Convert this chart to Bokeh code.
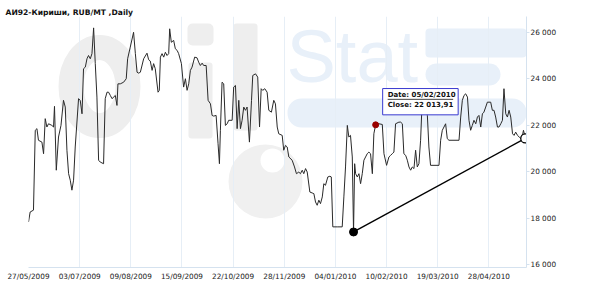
from bokeh.plotting import figure
from bokeh.models import Range1d, FixedTicker
from bokeh.core.properties import value
from bokeh.embed import file_html
from bokeh.resources import INLINE

title_text = "АИ92-Кириши,  RUB/MT ,Daily"

tick_sessions = [0, 37, 74, 111, 148, 185, 222, 259, 296, 333]
tick_labels = ["27/05/2009", "03/07/2009", "09/08/2009", "15/09/2009", "22/10/2009",
               "28/11/2009", "04/01/2010", "10/02/2010", "19/03/2010", "28/04/2010"]
y_ticks = [16000, 18000, 20000, 22000, 24000, 26000]
y_tick_labels = ["16 000", "18 000", "20 000", "22 000", "24 000", "26 000"]

sessions = [
    0, 1.2, 3.6, 4.9, 6.1, 7.2, 9.7, 10.9, 12.1, 13.3,
    14.5, 16.9, 18.1, 18.8, 20.1, 21.7, 23.5, 25.3, 26.6, 27.8,
    29.0, 30.2, 31.4, 32.6, 33.8, 36.2, 37.4, 38.7, 39.8, 41.1,
    42.3, 43.4, 44.7, 45.9, 47.1, 48.3, 49.5, 50.7, 51.9, 54.3,
    55.5, 56.8, 57.9, 59.2, 60.4, 62.8, 64.0, 64.7, 66.4, 68.8,
    70.7, 71.7, 73.6, 76.0, 77.3, 78.5, 79.7, 80.9, 83.3, 85.7,
    86.9, 88.1,
    89.4, 90.5, 91.7, 93.7, 94.6, 95.4, 96.6, 97.8, 99.0, 100.2,
    101.4, 102.1, 103.3, 105.0, 106.2, 107.5, 108.6, 110.6, 112.2, 113.5,
    114.7, 115.9, 117.1, 118.3, 120.2, 121.9, 123.1, 124.3, 125.6, 126.7,
    128.5, 129.9, 131.6, 132.8, 134.0, 135.7, 137.1, 138.1, 138.8, 140.0,
    141.2, 142.4, 143.7, 144.8, 147.3, 148.4, 149.7, 150.9, 152.1, 153.3,
    154.5, 155.7, 156.9, 158.1, 159.8, 161.3, 162.2, 164.2, 165.8, 167.1,
    168.3, 169.4, 170.9, 172.6, 173.8, 175.7, 177.4, 178.6,
    179.9, 181.0, 183.5, 184.6, 185.9, 187.1, 188.3, 190.7, 192.4, 193.8,
    195.5, 196.7, 198.0, 199.1, 200.4, 201.6, 203.5, 205.2, 206.4, 207.6,
    208.8, 210.0, 211.2, 212.5, 213.6, 214.8, 216.5, 218.0, 219.0, 220.1,
    223.3, 226.9, 228.1, 229.3, 230.6, 231.7, 232.9, 234.2, 235.1, 235.9,
    236.6, 237.8, 239.0, 240.2, 241.4, 242.6, 243.8, 245.0, 246.2, 247.4,
    248.7, 249.8, 251.1, 253.5, 255.9, 257.1, 259.0, 260.7, 261.9, 263.1,
    264.3, 265.5, 267.9, 269.2,
    270.4, 271.5, 272.8, 274.0, 275.2, 276.4, 277.6, 278.8, 280.0, 281.2,
    282.4, 283.6, 284.9, 288.5, 289.6, 290.8, 296.9, 298.1, 299.3, 300.5,
    301.7, 302.9, 304.1, 311.4, 312.6, 313.8, 315.0, 316.2, 317.5, 318.6,
    319.8, 321.0, 322.2, 323.5, 324.7, 325.8, 327.1, 328.3, 329.4, 330.7,
    331.9, 334.3, 335.5, 336.7, 337.9, 339.2, 340.3, 341.6, 342.8, 343.9,
    345.2, 346.4, 347.6, 348.8, 350.1, 351.2, 352.4, 353.7, 354.9, 356.1,
    357.3, 358.0, 359.2,
]

closes = [
    17830, 18260, 18340, 21780, 21850, 21350, 21270, 20770, 22280, 21920,
    22060, 21990, 21920, 22810, 20060, 21490, 21990, 23070, 22780, 20920,
    19910, 19630, 19200, 19630, 21060, 23140, 23070, 22490, 24430, 24500,
    24860, 25000, 24860, 25080, 26190, 24650, 23210, 20490, 20410, 20340,
    23140, 23420, 23420, 23280, 23140, 23280, 22850, 23780, 23780, 23850,
    24000, 24860, 25360, 26000, 25080, 24280, 24240, 24280, 24860, 25100,
    24820, 24760,
    24360, 24650, 24430, 23420, 23500, 24930, 25080, 24930, 25140, 25000,
    25080, 26150, 25570, 25650, 25290, 25220, 25080, 24650, 23640, 24000,
    23500, 23780, 24360, 24500, 24930, 24900, 24710, 24570, 24670, 24570,
    24570, 23070, 22920, 22420, 22390, 22420, 21200, 20340, 21780, 23850,
    23780, 21990, 22060, 22210, 22210, 23640, 23710, 21850, 23070, 21850,
    22210, 22780, 22640, 22780, 21270, 23070, 24140, 24210, 24070, 21920,
    23570, 23500, 23570, 23420, 22640, 22560, 23070, 22920,
    21920, 21630, 21560, 20920, 21130, 21060, 20630, 20490, 20200, 19910,
    19980, 19910, 20060, 19910, 20130, 19980, 19120, 19080, 19050, 18690,
    18550, 18770, 18620, 18910, 19480, 19410, 19770, 19800, 19770, 17620,
    17620, 17620, 18910, 20200, 21990, 21490, 21560, 20630, 17400, 20340,
    19910, 19770, 19910, 19480, 19910, 20490, 20630, 20770, 20840, 20770,
    19910, 21630, 22030, 22060, 22030, 20770, 20270, 20630, 20700, 20770,
    20840, 22060, 22130, 22130,
    22060, 20770, 20700, 20490, 20200, 20060, 20200, 20130, 20920, 20200,
    20340, 21350, 23280, 22420, 21060, 20270, 20270, 21350, 21780, 21920,
    22060, 21420, 21350, 21350, 22350, 23070, 23280, 23350, 23210, 22210,
    21780, 21990, 22210, 22060, 22350, 22420, 21920, 22490, 22560, 22780,
    22990, 22990, 22640, 22640, 22350, 21920, 21920, 22060, 22210, 23570,
    22490, 22350, 22640, 22350, 21630, 21560, 21700, 21560, 21490, 21420,
    21560, 21780, 21490,
]
assert len(sessions) == len(closes), (len(sessions), len(closes))

trend_sessions = [235.1, 359.3]
trend_values = [17400, 21430]

tip_session = 251.1
tip_close = 22013.91
tip_date = "05/02/2010"
tip_close_text = "22 013,91"

# ---------------- layout ----------------
W, H = 590, 290
BL, BR, BT, BB = 28, 64, 16, 23
X0, X1 = 0, 360.2
Y0, Y1 = 15870, 26680
FW = W - BL - BR
FH = H - BT - BB


def px2x(px):
    return X0 + (px - BL) / FW * (X1 - X0)


def py2y(py):
    return Y0 + (H - BB - py) / FH * (Y1 - Y0)


def dx(px):
    return px / FW * (X1 - X0)


def dy(py):
    return py / FH * (Y1 - Y0)


p = figure(width=W, height=H, output_backend="svg", toolbar_location=None,
           x_range=Range1d(X0, X1), y_range=Range1d(Y0, Y1),
           y_axis_location="right", min_border_left=BL, min_border_right=BR,
           min_border_top=BT, min_border_bottom=BB)
p.outline_line_color = None
p.background_fill_color = "white"
p.border_fill_color = "white"

# title
p.title.text = title_text
p.title.align = "left"
p.title.offset = 5 - BL
p.title.standoff = 0
p.title.text_font = "DejaVu Sans"
p.title.text_font_style = "bold"
p.title.text_font_size = "7.6px"
p.title.text_color = "#111111"

# ---------- watermark (OilStat logo) ----------
gray = "#eeeeee"
blue = "#e8f0f9"
r = p.ellipse(x=[px2x(99)], y=[py2y(86)], width=[57], height=[78],
              width_units="screen", height_units="screen",
              fill_color=None, line_color=gray, line_width=25)
r.level = "image"
wm = [
    (187, 213, 23, 45, gray, 5),
    (188, 212, 62, 138, gray, 3),
    (233, 257, 23, 130, gray, 3),
    (287, 526, 98, 127, blue, 14),
    (425, 526, 28, 57, blue, 4),
    (425, 500, 63, 85, blue, 11),
]
for l, rr, t, b, c, rad in wm:
    q = p.quad(left=[px2x(l)], right=[px2x(rr)], top=[py2y(t)], bottom=[py2y(b)],
               fill_color=c, line_color=None, border_radius=rad)
    q.level = "image"
c1 = p.circle(x=[px2x(265)], y=[py2y(181)], radius=[37], radius_units="screen",
              fill_color="#f0f0f0", line_color=None)
c1.level = "image"
c2 = p.circle(x=[px2x(272)], y=[py2y(160)], radius=[12], radius_units="screen",
              fill_color="white", line_color=None)
c2.level = "image"
st = p.text(x=[px2x(286)], y=[py2y(14)], text=["Stat"], text_color=blue,
            text_font=value("Liberation Sans"), text_font_size="74px",
            text_baseline="top", text_align="left")
st.level = "image"

# ---------- axes & grid ----------
p.xaxis.ticker = FixedTicker(ticks=tick_sessions)
p.xaxis.major_label_overrides = {t: s for t, s in zip(tick_sessions, tick_labels)}
p.yaxis.ticker = FixedTicker(ticks=y_ticks)
p.yaxis.major_label_overrides = {t: s for t, s in zip(y_ticks, y_tick_labels)}
p.xgrid.ticker = FixedTicker(ticks=tick_sessions)
p.xgrid.grid_line_color = "#e6eef6"
p.ygrid.grid_line_color = None

for ax in (p.xaxis[0], p.yaxis[0]):
    ax.major_label_text_font = "DejaVu Sans"
    ax.major_label_text_font_size = "7.3px"
    ax.major_label_text_color = "#222222"
    ax.minor_tick_line_color = None
    ax.axis_line_color = "#d5e2ef"
    ax.major_tick_line_color = "#d5e2ef"
p.xaxis.major_tick_out = 0
p.xaxis.major_tick_in = 0
p.xaxis.major_label_standoff = 4
p.yaxis.major_tick_out = 3
p.yaxis.major_tick_in = 0
p.yaxis.major_label_standoff = 1

# ---------- series ----------
p.line(sessions, closes, line_color="#2a2a2a", line_width=1)

# trend line
p.line(trend_sessions, trend_values, line_color="black", line_width=1.4)
p.scatter([trend_sessions[0]], [trend_values[0]], size=8, marker="circle",
          fill_color="black", line_color="black")
p.scatter([trend_sessions[1]], [trend_values[1]], size=9, marker="circle",
          fill_color="white", line_color="black", line_width=1.3)

# tooltip marker + box
p.scatter([tip_session], [tip_close], size=6, marker="circle",
          fill_color="#990000", line_color="#990000")
p.quad(left=[tip_session + dx(7)], right=[tip_session + dx(82.5)],
       top=[tip_close + dy(36.3)], bottom=[tip_close + dy(10)],
       fill_color="white", line_color="#3a3ad0", line_width=1)
p.text(x=[tip_session, tip_session], y=[tip_close, tip_close],
       text=["Date: " + tip_date, "Close: " + tip_close_text],
       x_offset=[12, 12], y_offset=[-29.5, -19.5],
       text_font=value("DejaVu Sans"), text_font_style="bold",
       text_font_size="7px", text_color="#111111",
       text_baseline="middle", text_align="left")
p.segment(x0=[tip_session + dx(12)], x1=[tip_session + dx(77.5)],
          y0=[tip_close + dy(25.5)], y1=[tip_close + dy(25.5)],
          line_color="#111111", line_width=0.8)

open("out.html", "w").write(file_html(p, INLINE))
